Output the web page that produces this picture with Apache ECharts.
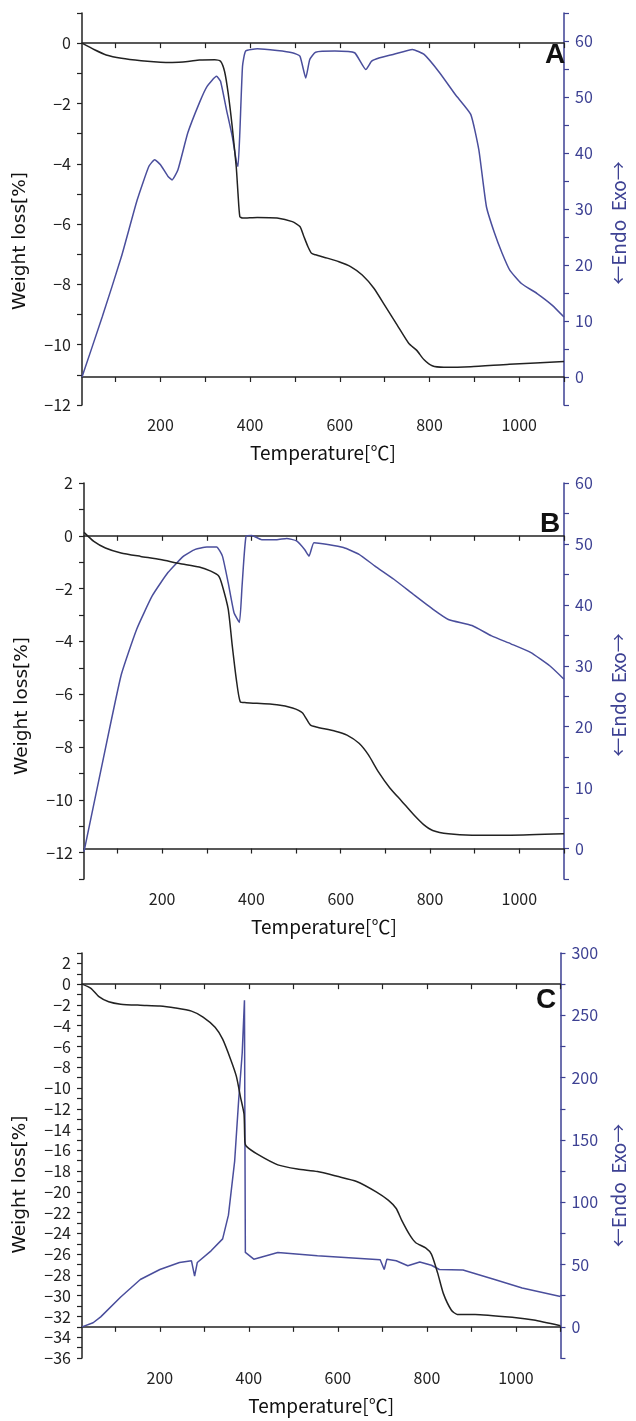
<!DOCTYPE html>
<html><head><meta charset="utf-8">
<script src="https://cdn.jsdelivr.net/npm/echarts@6/dist/echarts.min.js"></script>
<style>html,body{margin:0;padding:0;background:#fff}#c{width:636px;height:1421px}</style>
</head><body><div id="c"></div><script>
// ---------- data (temperature in °C, weight loss in %, DTA in µV) ----------
const aTgT = [25,53,79,113,157,200,226,261,287,321,334,343,351,360,369,373,377,383,416,460,494,511,520,529,537,546,572,598,624,650,676,702,728,754,771,788,806,832,892,978,1100];
const aTgW = [0,-0.22,-0.39,-0.5,-0.58,-0.63,-0.64,-0.61,-0.56,-0.55,-0.6,-0.94,-1.66,-2.77,-4.1,-5.0,-5.75,-5.8,-5.78,-5.8,-5.92,-6.08,-6.42,-6.75,-6.97,-7.02,-7.13,-7.25,-7.41,-7.69,-8.13,-8.74,-9.35,-9.96,-10.18,-10.5,-10.7,-10.75,-10.73,-10.65,-10.56];
const aDtaT = [25,70,113,148,174,187,200,217,226,239,261,287,304,325,334,347,360,370,373,377,383,390,416,460,494,511,524,533,546,589,633,658,671,689,719,762,788,823,858,892,910,927,945,962,979,1005,1040,1074,1100];
const aDtaV = [0,10.7,21.5,31.6,37.6,38.8,37.9,35.8,35.2,37,43.6,49,51.9,53.7,52.8,47.8,43,38.2,37.6,43.6,55.5,58.2,58.6,58.3,57.9,57.3,53.4,56.7,58,58.2,57.9,54.9,56.4,57,57.6,58.5,57.6,54.3,50.4,46.9,40.6,30.4,25.7,22.1,19.1,16.7,14.9,12.8,10.7];

const bTgT = [25,47,73,108,152,196,239,283,309,327,335,348,357,366,375,388,457,492,514,532,545,588,614,641,662,684,710,737,763,785,806,841,894,981,1100];
const bTgW = [0.13,-0.21,-0.46,-0.65,-0.78,-0.9,-1.05,-1.18,-1.34,-1.53,-1.9,-2.78,-4.16,-5.42,-6.29,-6.32,-6.4,-6.52,-6.7,-7.17,-7.24,-7.4,-7.55,-7.86,-8.3,-8.93,-9.55,-10.06,-10.56,-10.93,-11.16,-11.29,-11.34,-11.34,-11.29];
const bDtaT = [25,65,108,143,178,213,248,274,300,322,335,348,361,373,379,388,401,423,457,479,501,519,529,540,571,606,641,676,719,763,806,841,894,938,981,1025,1068,1100];
const bDtaV = [-0.5,13.6,28.4,36,41.5,45.3,48,49.1,49.5,49.5,48,43.6,38.7,37.1,43.1,51.3,51.4,50.7,50.7,50.9,50.5,49.1,48,50.2,49.9,49.4,48.3,46.4,44.2,41.7,39.3,37.6,36.6,34.9,33.6,32.2,30,27.8];

const cTgT = [25,45,63,85,112,156,200,235,271,297,324,341,359,372,381,389,391,394,420,465,509,554,598,642,686,713,731,744,762,775,797,810,824,837,855,868,908,996,1040,1100];
const cTgW = [0,-0.4,-1.2,-1.7,-1.93,-2.03,-2.1,-2.3,-2.6,-3.17,-4.15,-5.3,-7.25,-8.9,-10.85,-12.5,-15.2,-15.6,-16.4,-17.4,-17.8,-18.04,-18.5,-19,-20,-20.8,-21.6,-22.8,-24.2,-24.9,-25.4,-26,-27.8,-29.8,-31.4,-31.8,-31.8,-32.1,-32.35,-32.9];
const cDtaT = [25,50,67,112,156,200,244,271,278,284,315,341,354,368,377,385,390,392,411,465,554,642,695,704,710,731,757,784,810,828,881,952,1014,1100];
const cDtaV = [0,3.3,8,24,38,46,51.6,53,40.7,51.6,61,70.6,89.6,133,182,220,262,59.7,54.3,59.7,57,55.1,53.8,46,54.3,53,49,52,49.4,46,45.6,38,31.2,24.4];

// tick labels
const xLabels = [200,400,600,800,1000];
const xTicks = [100,200,300,400,500,600,700,800,900,1000,1100];
const panelLetters = ['A','B','C'];
const xName = 'Temperature[℃]';
const yLeftName = 'Weight loss[%]';
const yRightName = '←Endo  Exo→';

const leftRanges = [[-12,1],[-13,2],[-36,3]];
const rightRanges = [[-5,65],[-5,60],[-25,300]];
const rightTickStep = [5,5,25];
const rightLabelStep = [10,10,50];

// ---------- layout ----------
const grids = [
  {left:82, top:13, width:503, height:392},
  {left:84, top:483, width:500, height:396},
  {left:82, top:953, width:495, height:405}
];
const letterPos = [[540,36],[535,505],[531,981]];
const leftNameShift = [64,50,58];
const rightNameShift = [28,28,60];
const tgSmooth = [0.2,0.2,0.2];
const dtaSmooth = [0.15,0.15,false];

const BLACK = '#222222', BLUE = '#4a4e9c', BLUE_AX = '#3d4193';
const FONT = 'Noto Sans CJK JP';

function range(a,b,s){const r=[];for(let v=a;v<=b+1e-9;v+=s)r.push(Math.round(v*1000)/1000);return r;}
function pairs(t,v){return t.map((x,i)=>[x,v[i]]);}
const minus = v => String(v).replace('-', '\u2212');
const plain = v => String(v);

const xAxes=[], yAxes=[], series=[], titles=[];
const tg = [[aTgT,aTgW],[bTgT,bTgW],[cTgT,cTgW]];
const dta = [[aDtaT,aDtaV],[bDtaT,bDtaV],[cDtaT,cDtaV]];

for(let i=0;i<3;i++){
  xAxes.push({
    gridIndex:i, type:'value', min:25, max:1100, position:'bottom',
    name:xName, nameLocation:'middle', nameGap:38,
    nameTextStyle:{fontFamily:FONT, fontSize:19, color:'#111'},
    axisLine:{lineStyle:{color:BLACK,width:1.5}},
    axisTick:{show:true, inside:false, length:5, customValues:xTicks, lineStyle:{color:BLACK,width:1.2}},
    axisLabel:{customValues:xLabels, formatter:plain, fontFamily:FONT, fontSize:16, color:'#222', margin:12},
    splitLine:{show:false}
  });
  xAxes.push({
    gridIndex:i, type:'value', min:25, max:1100, position:'top',
    axisLine:{lineStyle:{color:BLACK,width:1.5}},
    axisTick:{show:true, inside:true, length:5, customValues:xTicks, lineStyle:{color:BLACK,width:1.2}},
    axisLabel:{show:false}, splitLine:{show:false}
  });
  const [lmin,lmax] = leftRanges[i];
  yAxes.push({
    gridIndex:i, type:'value', min:lmin, max:lmax, position:'left',
    name:yLeftName, nameLocation:'middle', nameGap:52, nameRotate:90,
    nameTextStyle:{fontFamily:'DejaVu Sans', fontSize:18.5, color:'#111', padding:[0,leftNameShift[i],0,0]},
    axisLine:{show:true, lineStyle:{color:BLACK,width:1.5}},
    axisTick:{show:true, inside:false, length:5, customValues:range(lmin,lmax,1), lineStyle:{color:BLACK,width:1.2}},
    axisLabel:{customValues:range(lmin%2===0?lmin:lmin+1,lmax,2), formatter:minus, fontFamily:FONT, fontSize:16, color:'#222', margin:11},
    splitLine:{show:false}
  });
  const [rmin,rmax] = rightRanges[i];
  yAxes.push({
    gridIndex:i, type:'value', min:rmin, max:rmax, position:'right',
    name:yRightName, nameLocation:'middle', nameGap:45, nameRotate:90,
    nameTextStyle:{fontFamily:FONT, fontSize:19, color:BLUE_AX, padding:[0,rightNameShift[i],0,0]},
    axisLine:{show:true, lineStyle:{color:BLUE_AX,width:1.5}},
    axisTick:{show:true, inside:false, length:5, customValues:range(rmin,rmax,rightTickStep[i]), lineStyle:{color:BLUE_AX,width:1.2}},
    axisLabel:{customValues:range(0,rmax,rightLabelStep[i]), formatter:plain, fontFamily:FONT, fontSize:16, color:BLUE_AX, margin:11},
    splitLine:{show:false}
  });
  series.push({
    type:'line', xAxisIndex:2*i, yAxisIndex:2*i, data:pairs(tg[i][0],tg[i][1]),
    smooth:tgSmooth[i],
    showSymbol:false, symbol:'none', lineStyle:{color:BLACK,width:1.5}, z:3, animation:false
  });
  series.push({
    type:'line', xAxisIndex:2*i, yAxisIndex:2*i+1, data:pairs(dta[i][0],dta[i][1]),
    smooth:dtaSmooth[i],
    showSymbol:false, symbol:'none', lineStyle:{color:BLUE,width:1.5}, z:2, animation:false
  });
  titles.push({
    text:panelLetters[i], left:letterPos[i][0], top:letterPos[i][1],
    textStyle:{fontFamily:'Liberation Sans', fontWeight:'bold', fontSize:28, color:'#111'}
  });
}

const chart = echarts.init(document.getElementById('c'), null, {renderer:'canvas'});
chart.setOption({
  animation:false, backgroundColor:'#fff',
  title:titles, grid:grids, xAxis:xAxes, yAxis:yAxes, series:series
});
</script></body></html>
